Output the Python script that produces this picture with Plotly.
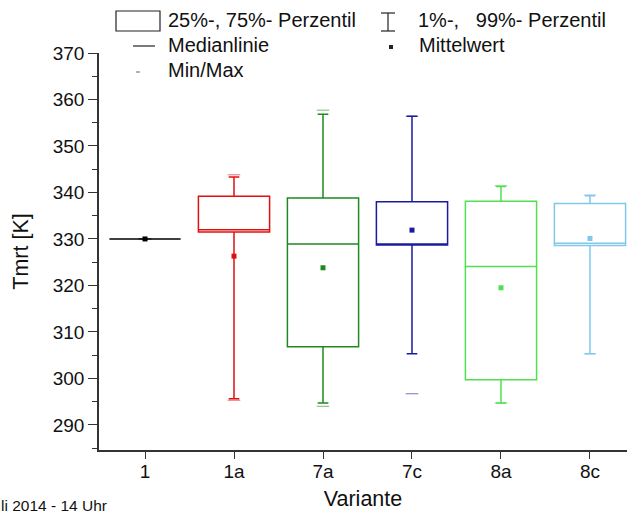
import plotly.graph_objects as go

# Tmrt statistics per variant
varianten = ["1", "1a", "7a", "7c", "8a", "8c"]
farben = ["#000000", "#e01010", "#1e8a1e", "#1a1aa0", "#50e050", "#80c8ea"]
p01 = [330.0, 295.6, 294.7, 305.3, 294.7, 305.3]
q25 = [330.0, 331.5, 306.8, 328.7, 299.7, 328.6]
median = [330.0, 332.0, 328.9, 328.9, 324.1, 329.1]
q75 = [330.0, 339.2, 338.8, 338.0, 338.1, 337.6]
p99 = [330.0, 343.3, 356.8, 356.4, 341.3, 339.3]
mittel = [330.0, 326.3, 323.8, 331.9, 319.5, 330.1]
minimum = [330.0, 295.3, 294.0, 296.7, 294.7, 305.3]
maximum = [330.0, 343.8, 357.7, 356.4, 341.5, 339.5]

W, H = 627, 513
L, R, T, B = 99, 0, 53, 63
PW, PH = W - L - R, H - T - B


def px(x):
    return (x - L) / PW


def py(y):
    return (H - B - y) / PH


fig = go.Figure()

for i, name in enumerate(varianten):
    c = farben[i]
    fig.add_trace(go.Box(
        x=[i], q1=[q25[i]], median=[median[i]], q3=[q75[i]],
        lowerfence=[p01[i]], upperfence=[p99[i]],
        width=0.8, whiskerwidth=0.15,
        line=dict(color=c, width=1.5), fillcolor="rgba(255,255,255,0)",
        boxpoints=False, showlegend=False, hoverinfo="skip",
    ))
    fig.add_trace(go.Scatter(
        x=[i], y=[mittel[i]], mode="markers",
        marker=dict(symbol="square", size=5, color=c),
        showlegend=False, hoverinfo="skip",
    ))
    fig.add_trace(go.Scatter(
        x=[i, i], y=[minimum[i], maximum[i]], mode="markers",
        marker=dict(symbol="line-ew", size=9, line=dict(color=c, width=1)),
        opacity=0.6, showlegend=False, hoverinfo="skip",
    ))

axis_col = "#333333"
font_fam = "Liberation Sans, Arial, sans-serif"

fig.update_layout(
    width=W, height=H, autosize=False,
    margin=dict(l=L, r=R, t=T, b=B),
    paper_bgcolor="white", plot_bgcolor="white",
    font=dict(family=font_fam, size=19, color="#111111"),
    xaxis=dict(
        range=[-0.517, 5.416], tickmode="array",
        tickvals=list(range(len(varianten))), ticktext=varianten,
        showgrid=False, zeroline=False, showline=True,
        linecolor=axis_col, linewidth=1.5,
        ticks="outside", ticklen=7, tickwidth=1.2, tickcolor=axis_col,
        tickfont=dict(size=19), ticklabelstandoff=-4,
        title=dict(text="Variante", font=dict(size=21.5), standoff=10),
        automargin=False,
    ),
    yaxis=dict(
        range=[284.6, 370], tick0=290, dtick=10,
        showgrid=False, zeroline=False, showline=True,
        linecolor=axis_col, linewidth=1.5,
        ticks="outside", ticklen=9, tickwidth=1.2, tickcolor=axis_col,
        minor=dict(dtick=5, tick0=285, ticks="outside", ticklen=5,
                   tickwidth=1, tickcolor=axis_col),
        tickfont=dict(size=19),
        title=dict(text="Tmrt [K]", font=dict(size=21.5), standoff=18),
        automargin=False,
    ),
)

# Legend drawn by hand in two columns
shapes = []
ann = []
lc = "#222222"
# box symbol
shapes.append(dict(type="rect", xref="paper", yref="paper",
                   x0=px(116), x1=px(160), y0=py(31), y1=py(11),
                   line=dict(color=lc, width=1.2)))
# percentile bar symbol
shapes += [
    dict(type="line", xref="paper", yref="paper", x0=px(388), x1=px(388),
         y0=py(31), y1=py(13), line=dict(color=lc, width=1.2)),
    dict(type="line", xref="paper", yref="paper", x0=px(381), x1=px(395),
         y0=py(13), y1=py(13), line=dict(color=lc, width=1.2)),
    dict(type="line", xref="paper", yref="paper", x0=px(381), x1=px(395),
         y0=py(31), y1=py(31), line=dict(color=lc, width=1.2)),
]
# median line symbol
shapes.append(dict(type="line", xref="paper", yref="paper",
                   x0=px(133), x1=px(155), y0=py(46), y1=py(46),
                   line=dict(color=lc, width=1.2)))
# mean symbol
shapes.append(dict(type="rect", xref="paper", yref="paper",
                   x0=px(389), x1=px(393), y0=py(49), y1=py(45),
                   line=dict(width=0), fillcolor=lc))
# min/max symbol
shapes.append(dict(type="line", xref="paper", yref="paper",
                   x0=px(136), x1=px(140), y0=py(72), y1=py(72),
                   line=dict(color="#666666", width=1)))

legend_txt = [
    (166, 20, "25%-, 75%- Perzentil"),
    (416, 20, "1%-,   99%- Perzentil"),
    (166, 45, "Medianlinie"),
    (417, 45, "Mittelwert"),
    (166, 70, "Min/Max"),
]
for x, y, t in legend_txt:
    ann.append(dict(x=px(x), y=py(y), xref="paper", yref="paper", text=t,
                    showarrow=False, xanchor="left", yanchor="middle",
                    font=dict(size=20, color="#111111")))

ann.append(dict(x=px(-1), y=py(505), xref="paper", yref="paper",
                text="li 2014 - 14 Uhr", showarrow=False,
                xanchor="left", yanchor="middle",
                font=dict(size=15.5, color="#111111")))

fig.update_layout(shapes=shapes, annotations=ann)

fig.write_html("out.html")
